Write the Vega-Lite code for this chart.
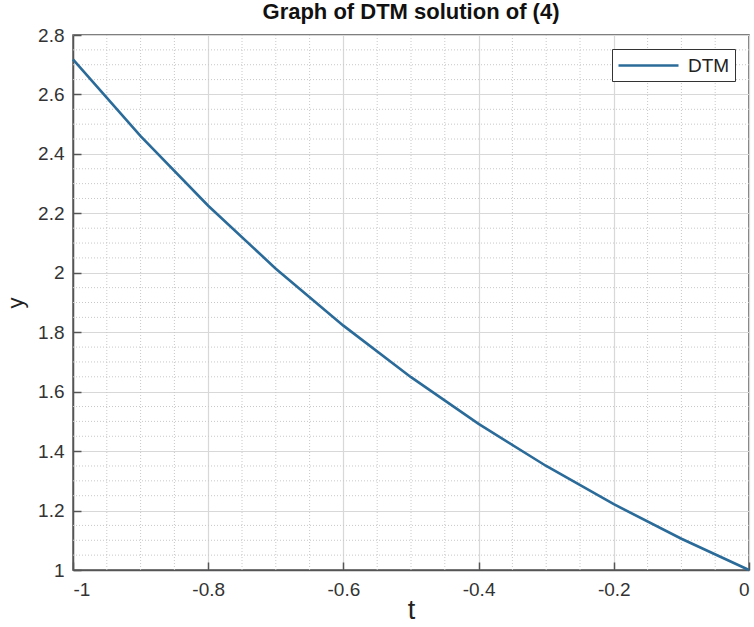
{
  "$schema": "https://vega.github.io/schema/vega-lite/v6.json",
  "width": 676,
  "height": 535,
  "autosize": "none",
  "padding": {"left": 73, "top": 35, "right": 5, "bottom": 57},
  "background": "white",
  "title": {"text": "Graph of DTM solution of (4)", "font": "Liberation Sans", "fontSize": 22, "fontWeight": "bold", "color": "#111", "offset": 2},
  "config": {
    "view": {"stroke": "#555", "strokeWidth": 1.5},
    "axis": {"labelFont": "Liberation Sans", "titleFont": "Liberation Sans", "labelColor": "#333", "titleColor": "#222", "labelFontSize": 19, "domainColor": "#555", "domainWidth": 1.5, "ticks": true, "tickColor": "#555", "tickWidth": 1.5, "gridColor": "#d8d8d8", "gridWidth": 1.2}
  },
  "datasets": {
    "curve": [
      {"t": -1.0, "y": 2.7183, "series": "DTM"},
      {"t": -0.9, "y": 2.4596, "series": "DTM"},
      {"t": -0.8, "y": 2.2255, "series": "DTM"},
      {"t": -0.7, "y": 2.0138, "series": "DTM"},
      {"t": -0.6, "y": 1.8221, "series": "DTM"},
      {"t": -0.5, "y": 1.6487, "series": "DTM"},
      {"t": -0.4, "y": 1.4918, "series": "DTM"},
      {"t": -0.3, "y": 1.3499, "series": "DTM"},
      {"t": -0.2, "y": 1.2214, "series": "DTM"},
      {"t": -0.1, "y": 1.1052, "series": "DTM"},
      {"t": 0.0, "y": 1.0, "series": "DTM"}
    ],
    "minorx": [
      {"v": -0.95}, {"v": -0.9}, {"v": -0.85}, {"v": -0.75}, {"v": -0.7}, {"v": -0.65},
      {"v": -0.55}, {"v": -0.5}, {"v": -0.45}, {"v": -0.35}, {"v": -0.3}, {"v": -0.25},
      {"v": -0.15}, {"v": -0.1}, {"v": -0.05}
    ],
    "minory": [
      {"v": 1.05}, {"v": 1.1}, {"v": 1.15}, {"v": 1.25}, {"v": 1.3}, {"v": 1.35},
      {"v": 1.45}, {"v": 1.5}, {"v": 1.55}, {"v": 1.65}, {"v": 1.7}, {"v": 1.75},
      {"v": 1.85}, {"v": 1.9}, {"v": 1.95}, {"v": 2.05}, {"v": 2.1}, {"v": 2.15},
      {"v": 2.25}, {"v": 2.3}, {"v": 2.35}, {"v": 2.45}, {"v": 2.5}, {"v": 2.55},
      {"v": 2.65}, {"v": 2.7}, {"v": 2.75}
    ]
  },
  "layer": [
    {
      "data": {"name": "minorx"},
      "mark": {"type": "rule", "color": "#c8c8c8", "strokeDash": [1, 2], "strokeWidth": 1},
      "encoding": {
        "x": {"field": "v", "type": "quantitative", "scale": {"domain": [-1, 0], "nice": false, "zero": false},
          "axis": {"values": [-1, -0.8, -0.6, -0.4, -0.2, 0], "labelExpr": "datum.value == 0 ? '0' : replace(format(datum.value, '.1~f'), '−', '-')", "grid": true, "tickSize": -8, "labelPadding": 18, "title": "t", "titleFontSize": 27, "titleFontWeight": "normal", "titlePadding": -2}}
      }
    },
    {
      "data": {"name": "minory"},
      "mark": {"type": "rule", "color": "#c8c8c8", "strokeDash": [1, 2], "strokeWidth": 1},
      "encoding": {
        "y": {"field": "v", "type": "quantitative", "scale": {"domain": [1, 2.8], "nice": false, "zero": false},
          "axis": {"values": [1, 1.2, 1.4, 1.6, 1.8, 2, 2.2, 2.4, 2.6, 2.8], "labelExpr": "format(datum.value, '.1~f')", "grid": true, "tickSize": -8, "labelPadding": 17, "title": "y", "titleFontSize": 22, "titleFontWeight": "normal", "titlePadding": 10}}
      }
    },
    {
      "data": {"name": "curve"},
      "mark": {"type": "line", "strokeWidth": 2.6},
      "encoding": {
        "x": {"field": "t", "type": "quantitative"},
        "y": {"field": "y", "type": "quantitative"},
        "color": {"field": "series", "type": "nominal", "scale": {"range": ["#2b6b99"]},
          "legend": {"title": null, "orient": "top-right", "offset": 14, "symbolType": "M-1,0H5", "symbolSize": 400, "symbolStrokeWidth": 2.6, "labelFont": "Liberation Sans", "labelFontSize": 19, "labelColor": "#222", "strokeColor": "#333", "fillColor": "white", "padding": 5, "labelOffset": 48}}
      }
    }
  ]
}
